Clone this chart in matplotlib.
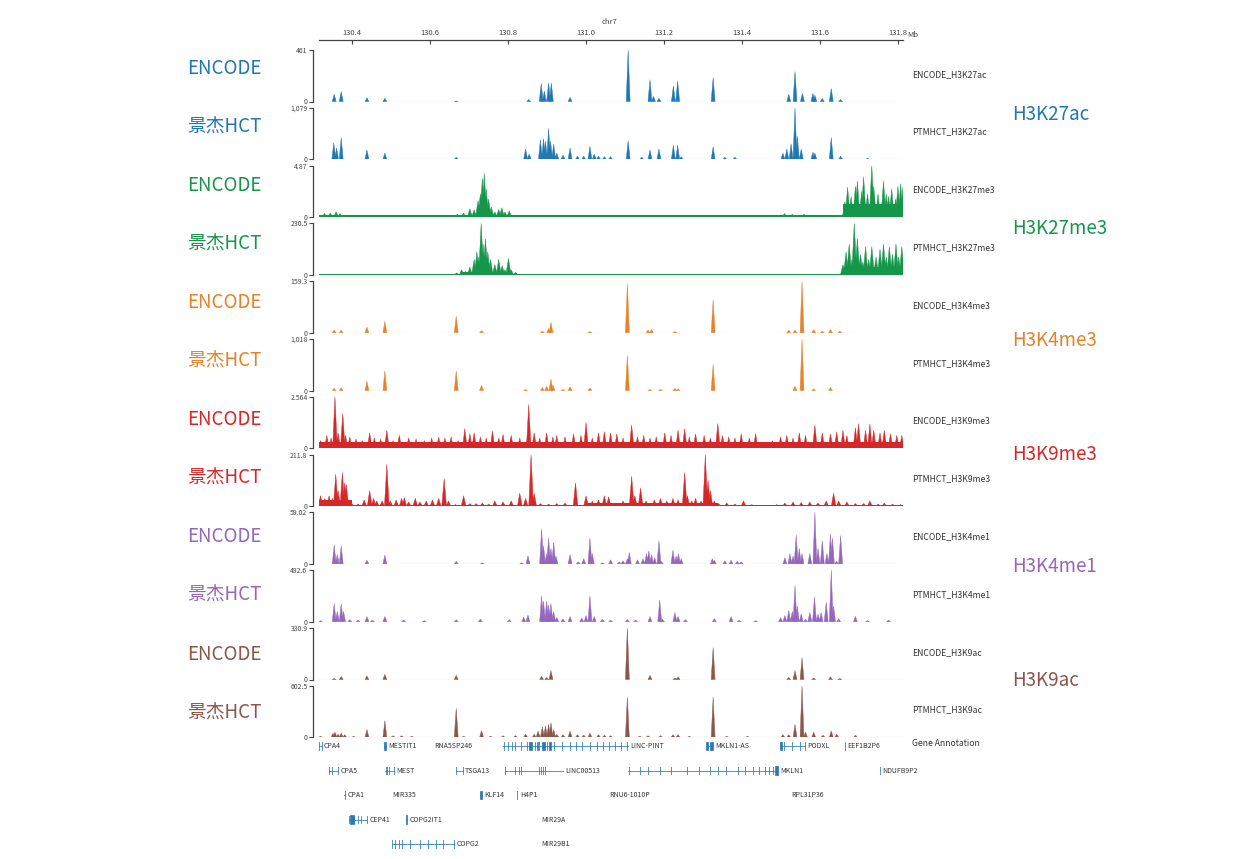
import numpy as np
import matplotlib
matplotlib.use('Agg')
import matplotlib.pyplot as plt
from matplotlib.collections import PolyCollection

plt.rcParams['font.family'] = ['Noto Sans CJK SC', 'DejaVu Sans']

# ---- data (Mb position, signal as fraction of track max) ----
enc_h3k27ac = [(130.355, 0.14), (130.373, 0.19), (130.439, 0.07), (130.485, 0.06), (130.668, 0.01),
               (130.854, 0.04), (130.886, 0.35), (130.894, 0.20), (130.905, 0.36), (130.912, 0.36),
               (130.960, 0.08), (131.109, 1.00), (131.165, 0.42), (131.174, 0.10), (131.188, 0.06),
               (131.225, 0.30), (131.236, 0.40), (131.327, 0.46), (131.521, 0.14), (131.537, 0.58),
               (131.556, 0.16), (131.583, 0.16), (131.588, 0.12), (131.607, 0.06), (131.630, 0.25),
               (131.654, 0.04)]
hct_h3k27ac = [(130.354, 0.32), (130.361, 0.22), (130.373, 0.42), (130.439, 0.18), (130.485, 0.12),
               (130.668, 0.04), (130.846, 0.20), (130.855, 0.10), (130.884, 0.38), (130.892, 0.40),
               (130.897, 0.35), (130.905, 0.60), (130.910, 0.35), (130.918, 0.30), (130.926, 0.12),
               (130.942, 0.08), (130.960, 0.22), (130.979, 0.06), (130.995, 0.06), (131.011, 0.25),
               (131.022, 0.10), (131.033, 0.06), (131.048, 0.05), (131.064, 0.05), (131.109, 0.36),
               (131.144, 0.04), (131.165, 0.18), (131.188, 0.20), (131.225, 0.27), (131.236, 0.27),
               (131.245, 0.05), (131.327, 0.24), (131.357, 0.04), (131.383, 0.04), (131.506, 0.12),
               (131.516, 0.20), (131.527, 0.30), (131.537, 1.00), (131.543, 0.45), (131.553, 0.20),
               (131.583, 0.14), (131.588, 0.12), (131.630, 0.42), (131.654, 0.06), (131.723, 0.02)]
enc_h3k27me3 = [(130.330, 0.07), (130.345, 0.08), (130.360, 0.10), (130.370, 0.07), (130.671, 0.06),
                (130.687, 0.08), (130.703, 0.16), (130.714, 0.14), (130.724, 0.32), (130.730, 0.45),
                (130.735, 0.75), (130.740, 0.85), (130.745, 0.55), (130.751, 0.35), (130.758, 0.20),
                (130.767, 0.10), (130.777, 0.15), (130.785, 0.18), (130.793, 0.10), (130.804, 0.12),
                (131.510, 0.07), (131.530, 0.06), (131.560, 0.06), (131.665, 0.30), (131.672, 0.58),
                (131.681, 0.40), (131.692, 0.60), (131.697, 0.70), (131.708, 0.50), (131.713, 0.78),
                (131.723, 0.45), (131.734, 1.00), (131.739, 0.60), (131.750, 0.45), (131.764, 0.70),
                (131.771, 0.45), (131.777, 0.40), (131.785, 0.55), (131.795, 0.35), (131.801, 0.60),
                (131.808, 0.65), (131.814, 0.60)]
hct_h3k27me3 = [(130.669, 0.04), (130.682, 0.10), (130.692, 0.07), (130.703, 0.15), (130.714, 0.30),
                (130.721, 0.45), (130.726, 0.35), (130.732, 1.00), (130.737, 0.60), (130.743, 0.70),
                (130.749, 0.45), (130.756, 0.30), (130.767, 0.20), (130.777, 0.30), (130.786, 0.18),
                (130.793, 0.10), (130.802, 0.32), (130.809, 0.10), (130.820, 0.05), (131.660, 0.20),
                (131.668, 0.45), (131.676, 0.60), (131.683, 0.30), (131.689, 1.00), (131.697, 0.70),
                (131.705, 0.40), (131.711, 0.25), (131.718, 0.55), (131.726, 0.30), (131.734, 0.55),
                (131.745, 0.35), (131.755, 0.50), (131.764, 0.60), (131.771, 0.35), (131.779, 0.55),
                (131.787, 0.40), (131.796, 0.60), (131.803, 0.35), (131.811, 0.55)]
enc_h3k4me3 = [(130.355, 0.05), (130.373, 0.05), (130.439, 0.11), (130.485, 0.22), (130.668, 0.32),
               (130.733, 0.04), (130.889, 0.03), (130.905, 0.08), (130.911, 0.20), (131.011, 0.02),
               (131.107, 0.95), (131.160, 0.05), (131.169, 0.06), (131.229, 0.02), (131.327, 0.64),
               (131.521, 0.05), (131.537, 0.05), (131.555, 1.00), (131.585, 0.06), (131.607, 0.03),
               (131.628, 0.06), (131.652, 0.03)]
hct_h3k4me3 = [(130.355, 0.04), (130.373, 0.05), (130.439, 0.18), (130.485, 0.38), (130.668, 0.38),
               (130.733, 0.10), (130.846, 0.02), (130.889, 0.06), (130.900, 0.08), (130.911, 0.22),
               (130.916, 0.10), (130.942, 0.02), (130.960, 0.07), (131.011, 0.05), (131.107, 0.68),
               (131.165, 0.02), (131.192, 0.02), (131.229, 0.04), (131.237, 0.03), (131.327, 0.50),
               (131.537, 0.08), (131.555, 1.00), (131.585, 0.03), (131.628, 0.06)]
enc_h3k9me3 = [(130.320, 0.15), (130.336, 0.25), (130.347, 0.20), (130.357, 1.00), (130.365, 0.30),
               (130.377, 0.68), (130.384, 0.25), (130.395, 0.22), (130.411, 0.18), (130.427, 0.15),
               (130.446, 0.30), (130.458, 0.20), (130.474, 0.18), (130.490, 0.35), (130.506, 0.15),
               (130.522, 0.25), (130.546, 0.20), (130.565, 0.18), (130.586, 0.15), (130.605, 0.20),
               (130.623, 0.22), (130.639, 0.20), (130.655, 0.22), (130.673, 0.15), (130.690, 0.38),
               (130.703, 0.28), (130.714, 0.30), (130.730, 0.22), (130.745, 0.20), (130.761, 0.33),
               (130.777, 0.20), (130.788, 0.27), (130.809, 0.25), (130.831, 0.20), (130.854, 0.85),
               (130.868, 0.30), (130.882, 0.20), (130.900, 0.30), (130.916, 0.22), (130.926, 0.25),
               (130.947, 0.22), (130.969, 0.28), (130.988, 0.25), (131.001, 0.50), (131.017, 0.20),
               (131.033, 0.30), (131.048, 0.32), (131.064, 0.30), (131.080, 0.28), (131.096, 0.20),
               (131.118, 0.45), (131.133, 0.22), (131.149, 0.25), (131.165, 0.20), (131.181, 0.22),
               (131.203, 0.30), (131.219, 0.25), (131.237, 0.35), (131.254, 0.38), (131.266, 0.22),
               (131.282, 0.28), (131.304, 0.25), (131.320, 0.20), (131.339, 0.48), (131.351, 0.25),
               (131.367, 0.22), (131.383, 0.20), (131.399, 0.28), (131.420, 0.20), (131.436, 0.28),
               (131.458, 0.12), (131.479, 0.15), (131.500, 0.22), (131.516, 0.25), (131.532, 0.20),
               (131.548, 0.30), (131.564, 0.25), (131.588, 0.45), (131.607, 0.30), (131.628, 0.28),
               (131.644, 0.32), (131.660, 0.35), (131.670, 0.25), (131.692, 0.40), (131.700, 0.48),
               (131.718, 0.35), (131.729, 0.47), (131.739, 0.35), (131.755, 0.30), (131.766, 0.35),
               (131.782, 0.28), (131.798, 0.25), (131.811, 0.25)]
hct_h3k9me3 = [(130.320, 0.20), (130.331, 0.15), (130.342, 0.20), (130.350, 0.15), (130.359, 0.62),
               (130.365, 0.30), (130.376, 0.65), (130.382, 0.45), (130.386, 0.42), (130.400, 0.05),
               (130.416, 0.04), (130.432, 0.12), (130.446, 0.30), (130.456, 0.15), (130.464, 0.10),
               (130.478, 0.10), (130.490, 0.81), (130.499, 0.10), (130.514, 0.12), (130.528, 0.15),
               (130.535, 0.16), (130.546, 0.08), (130.563, 0.15), (130.575, 0.08), (130.591, 0.10),
               (130.607, 0.12), (130.623, 0.15), (130.637, 0.53), (130.648, 0.10), (130.666, 0.03),
               (130.687, 0.20), (130.703, 0.05), (130.719, 0.05), (130.735, 0.06), (130.751, 0.04),
               (130.767, 0.10), (130.788, 0.08), (130.809, 0.10), (130.831, 0.25), (130.846, 0.15),
               (130.860, 1.00), (130.868, 0.25), (130.884, 0.05), (130.905, 0.04), (130.926, 0.05),
               (130.947, 0.06), (130.974, 0.45), (131.001, 0.20), (131.017, 0.10), (131.033, 0.12),
               (131.048, 0.20), (131.059, 0.18), (131.075, 0.05), (131.096, 0.10), (131.118, 0.58),
               (131.126, 0.20), (131.141, 0.35), (131.155, 0.10), (131.176, 0.12), (131.192, 0.15),
               (131.208, 0.10), (131.224, 0.15), (131.237, 0.12), (131.254, 0.65), (131.261, 0.20),
               (131.272, 0.10), (131.282, 0.15), (131.296, 0.10), (131.307, 1.00), (131.314, 0.50),
               (131.320, 0.30), (131.330, 0.10), (131.341, 0.05), (131.362, 0.06), (131.383, 0.04),
               (131.405, 0.10), (131.426, 0.03), (131.458, 0.02), (131.490, 0.03), (131.511, 0.06),
               (131.532, 0.08), (131.553, 0.07), (131.575, 0.08), (131.596, 0.06), (131.617, 0.10),
               (131.636, 0.25), (131.649, 0.10), (131.670, 0.08), (131.692, 0.05), (131.713, 0.05),
               (131.729, 0.10), (131.750, 0.04), (131.766, 0.06), (131.787, 0.04), (131.808, 0.03)]
enc_h3k4me1 = [(130.355, 0.37), (130.363, 0.18), (130.373, 0.35), (130.439, 0.07), (130.485, 0.17),
               (130.668, 0.05), (130.735, 0.02), (130.836, 0.02), (130.852, 0.16), (130.887, 0.68),
               (130.892, 0.35), (130.900, 0.20), (130.905, 0.50), (130.911, 0.30), (130.918, 0.42),
               (130.924, 0.15), (130.960, 0.18), (130.981, 0.04), (130.995, 0.10), (131.011, 0.50),
               (131.017, 0.20), (131.043, 0.02), (131.064, 0.08), (131.086, 0.04), (131.096, 0.06),
               (131.107, 0.10), (131.112, 0.22), (131.133, 0.08), (131.147, 0.10), (131.156, 0.20),
               (131.162, 0.25), (131.169, 0.18), (131.177, 0.12), (131.188, 0.45), (131.194, 0.05),
               (131.224, 0.27), (131.232, 0.15), (131.238, 0.20), (131.245, 0.10), (131.325, 0.10),
               (131.330, 0.07), (131.357, 0.06), (131.373, 0.07), (131.389, 0.05), (131.399, 0.04),
               (131.511, 0.12), (131.524, 0.20), (131.532, 0.15), (131.540, 0.56), (131.548, 0.30),
               (131.555, 0.20), (131.575, 0.20), (131.588, 1.00), (131.596, 0.30), (131.607, 0.45),
               (131.619, 0.20), (131.628, 0.58), (131.633, 0.50), (131.644, 0.05), (131.654, 0.55)]
hct_h3k4me1 = [(130.320, 0.02), (130.355, 0.35), (130.363, 0.20), (130.373, 0.35), (130.379, 0.20),
               (130.395, 0.04), (130.416, 0.03), (130.439, 0.10), (130.453, 0.03), (130.485, 0.10),
               (130.533, 0.03), (130.586, 0.02), (130.668, 0.04), (130.730, 0.05), (130.804, 0.04),
               (130.841, 0.09), (130.852, 0.13), (130.887, 0.50), (130.892, 0.40), (130.900, 0.40),
               (130.905, 0.32), (130.911, 0.35), (130.918, 0.20), (130.926, 0.08), (130.942, 0.05),
               (130.960, 0.10), (130.990, 0.07), (131.001, 0.12), (131.011, 0.50), (131.022, 0.10),
               (131.043, 0.05), (131.064, 0.03), (131.107, 0.04), (131.128, 0.03), (131.165, 0.10),
               (131.190, 0.42), (131.197, 0.05), (131.229, 0.18), (131.237, 0.10), (131.256, 0.04),
               (131.330, 0.06), (131.373, 0.10), (131.394, 0.03), (131.436, 0.02), (131.500, 0.08),
               (131.511, 0.12), (131.521, 0.22), (131.530, 0.20), (131.537, 0.70), (131.543, 0.30),
               (131.553, 0.15), (131.564, 0.05), (131.575, 0.18), (131.587, 0.48), (131.596, 0.15),
               (131.604, 0.18), (131.617, 0.38), (131.630, 1.00), (131.636, 0.30), (131.649, 0.06),
               (131.692, 0.10), (131.723, 0.02), (131.777, 0.03)]
enc_h3k9ac = [(130.355, 0.02), (130.373, 0.06), (130.439, 0.07), (130.485, 0.10), (130.668, 0.08),
              (130.887, 0.06), (130.900, 0.04), (130.911, 0.17), (131.107, 1.00), (131.165, 0.08),
              (131.229, 0.03), (131.237, 0.05), (131.327, 0.62), (131.521, 0.04), (131.537, 0.17),
              (131.555, 0.42), (131.585, 0.03), (131.628, 0.05), (131.652, 0.02)]
hct_h3k9ac = [(130.320, 0.02), (130.352, 0.08), (130.357, 0.10), (130.365, 0.06), (130.373, 0.08),
              (130.382, 0.05), (130.405, 0.02), (130.439, 0.15), (130.485, 0.32), (130.506, 0.03),
              (130.528, 0.03), (130.554, 0.02), (130.668, 0.56), (130.687, 0.02), (130.733, 0.13),
              (130.756, 0.02), (130.788, 0.03), (130.820, 0.03), (130.846, 0.06), (130.868, 0.06),
              (130.878, 0.12), (130.889, 0.20), (130.897, 0.22), (130.905, 0.25), (130.911, 0.28),
              (130.918, 0.15), (130.926, 0.06), (130.942, 0.05), (130.960, 0.12), (130.979, 0.05),
              (130.995, 0.04), (131.011, 0.08), (131.033, 0.05), (131.048, 0.04), (131.064, 0.03),
              (131.107, 0.78), (131.139, 0.02), (131.160, 0.03), (131.192, 0.03), (131.224, 0.05),
              (131.237, 0.05), (131.266, 0.02), (131.327, 0.78), (131.362, 0.02), (131.415, 0.02),
              (131.506, 0.05), (131.521, 0.05), (131.537, 0.25), (131.555, 1.00), (131.564, 0.10),
              (131.585, 0.10), (131.609, 0.04), (131.630, 0.12), (131.644, 0.06), (131.692, 0.04)]

# background levels (start, end, level)
enc_h3k27me3_bg = [(130.315, 131.814, 0.04), (131.660, 131.814, 0.25)]
hct_h3k27me3_bg = [(130.315, 131.814, 0.01), (130.680, 130.810, 0.06), (131.660, 131.814, 0.15)]
enc_h3k9me3_bg = [(130.315, 131.814, 0.12)]
hct_h3k9me3_bg = [(130.315, 131.814, 0.03), (130.315, 130.400, 0.12), (131.000, 131.340, 0.06)]

track_names = ['ENCODE_H3K27ac', 'PTMHCT_H3K27ac', 'ENCODE_H3K27me3', 'PTMHCT_H3K27me3',
               'ENCODE_H3K4me3', 'PTMHCT_H3K4me3', 'ENCODE_H3K9me3', 'PTMHCT_H3K9me3',
               'ENCODE_H3K4me1', 'PTMHCT_H3K4me1', 'ENCODE_H3K9ac', 'PTMHCT_H3K9ac']
track_max = ['461', '1,079', '4.87', '230.5', '159.3', '1,018', '2.564', '211.8',
             '59.02', '492.6', '330.9', '602.5']
track_peaks = [enc_h3k27ac, hct_h3k27ac, enc_h3k27me3, hct_h3k27me3, enc_h3k4me3, hct_h3k4me3,
               enc_h3k9me3, hct_h3k9me3, enc_h3k4me1, hct_h3k4me1, enc_h3k9ac, hct_h3k9ac]
track_bg = [[], [], enc_h3k27me3_bg, hct_h3k27me3_bg, [], [], enc_h3k9me3_bg, hct_h3k9me3_bg,
            [], [], [], []]
marks = ['H3K27ac', 'H3K27me3', 'H3K4me3', 'H3K9me3', 'H3K4me1', 'H3K9ac']
sources = ['ENCODE', '景杰HCT']
colors = ['#1f77b4', '#16964a', '#e6832a', '#d62728', '#9467bd', '#8c564b']

chrom_ticks = [130.4, 130.6, 130.8, 131.0, 131.2, 131.4, 131.6, 131.8]

# genes: name, start, end, row
genes = [('CPA4', 130.316, 130.323, 0), ('MESTIT1', 130.484, 130.487, 0),
         ('RNA5SP246', 130.604, 130.605, 0), ('LINC-PINT', 130.788, 131.108, 0),
         ('MKLN1-AS', 131.309, 131.326, 0), ('PODXL', 131.498, 131.563, 0),
         ('EEF1B2P6', 131.664, 131.665, 0),
         ('CPA5', 130.342, 130.365, 1), ('MEST', 130.485, 130.508, 1),
         ('TSGA13', 130.667, 130.685, 1), ('LINC00513', 130.793, 130.942, 1),
         ('MKLN1', 131.109, 131.493, 1), ('NDUFB9P2', 131.755, 131.756, 1),
         ('CPA1', 130.381, 130.383, 2), ('MIR335', 130.496, 130.497, 2),
         ('KLF14', 130.730, 130.733, 2), ('H4P1', 130.825, 130.826, 2),
         ('RNU6-1010P', 131.054, 131.055, 2), ('RPL31P36', 131.521, 131.522, 2),
         ('CEP41', 130.393, 130.439, 3), ('COPG2IT1', 130.540, 130.543, 3),
         ('MIR29A', 130.879, 130.880, 3),
         ('COPG2', 130.502, 130.662, 4), ('MIR29B1', 130.879, 130.880, 4)]
gene_exons = {
    'CPA4': [130.316, 130.323],
    'LINC-PINT': [130.790, 130.800, 130.810, 130.820, 130.835, 130.850, 130.870, 130.880, 130.900,
                  130.920, 130.940, 130.960, 130.975, 130.990, 131.010, 131.030, 131.045, 131.060,
                  131.075, 131.090, 131.105],
    'PODXL': [131.510, 131.530, 131.550, 131.562],
    'CPA5': [130.342, 130.350, 130.365],
    'MEST': [130.487, 130.490, 130.495, 130.508],
    'TSGA13': [130.667, 130.685],
    'LINC00513': [130.793, 130.820, 130.830, 130.835, 130.880, 130.885, 130.890, 130.895],
    'MKLN1': [131.112, 131.140, 131.160, 131.190, 131.220, 131.260, 131.290, 131.320, 131.340,
              131.360, 131.390, 131.410, 131.430, 131.445, 131.460, 131.470, 131.480, 131.488],
    'CPA1': [130.382],
    'CEP41': [130.393, 130.405, 130.415, 130.425, 130.439],
    'COPG2': [130.503, 130.512, 130.522, 130.530, 130.550, 130.575, 130.595, 130.615, 130.635,
              130.662],
    'EEF1B2P6': [131.665], 'NDUFB9P2': [131.755], 'H4P1': [130.825],
}
gene_blocks = {
    'MESTIT1': [(130.484, 130.487)],
    'LINC-PINT': [(130.855, 130.862), (130.875, 130.878), (130.888, 130.895), (130.905, 130.912)],
    'MKLN1-AS': [(131.309, 131.313), (131.320, 131.326)],
    'PODXL': [(131.498, 131.503)],
    'MKLN1': [(131.486, 131.493)],
    'KLF14': [(130.730, 130.733)],
    'CEP41': [(130.396, 130.405)],
    'COPG2IT1': [(130.540, 130.543)],
}

# ---- layout ----
W, H = 1255, 859
fig = plt.figure(figsize=(W / 100, H / 100), dpi=100)


def fx(px):
    return px / W


def fy(py):
    return 1 - py / H


X0, X1 = 318.6, 903.0
XLIM = (130.315, 131.814)
track_h = 51.5

for i in range(12):
    col = colors[i // 2]
    top = 50 + 57.8 * i
    ax = fig.add_axes([fx(X0), fy(top + track_h), (X1 - X0) / W, track_h / H])
    if i in (2, 3):
        hw = 0.0065
    elif i in (6, 7):
        hw = 0.006
    else:
        hw = 0.005
    verts = [[(p - hw, 0), (p, v), (p + hw, 0)] for p, v in track_peaks[i]]
    ax.add_collection(PolyCollection(verts, facecolors=col, edgecolors=col, linewidths=0.3))
    for s, e, lvl in track_bg[i]:
        ax.fill_between([s, e], 0, lvl, color=col, lw=0)
    ax.axhline(0, color=col, lw=0.8, alpha=0.5)
    ax.set_xlim(*XLIM)
    ax.set_ylim(0, 1.0)
    for sp in ['top', 'right', 'bottom']:
        ax.spines[sp].set_visible(False)
    ax.spines['left'].set_position(('outward', 4))
    ax.spines['left'].set_color('#444444')
    ax.spines['left'].set_linewidth(0.9)
    ax.set_xticks([])
    ax.set_yticks([0, 1])
    ax.set_yticklabels(['0', track_max[i]])
    ax.tick_params(axis='y', direction='out', length=3, width=0.8, labelsize=5,
                   colors='#444444', pad=1)
    ax.patch.set_alpha(0)
    ax.text(1.015, 0.53, track_names[i], transform=ax.transAxes, fontsize=6.2,
            color='#333333', ha='left', va='center')

    # left source label
    fig.text(fx(224), fy(68 + 58.6 * i), sources[i % 2], color=col, fontsize=13.5,
             ha='center', va='center')

# right mark labels
for g, m in enumerate(marks):
    fig.text(fx(1012), fy(115 + 113 * g), m, color=colors[g], fontsize=13.5,
             ha='left', va='center')

# chromosome scale on top
sax = fig.add_axes([fx(X0), fy(40), (X1 - X0) / W, 0.0001])
sax.set_xlim(*XLIM)
sax.set_yticks([])
for sp in ['top', 'right', 'left']:
    sax.spines[sp].set_visible(False)
sax.spines['bottom'].set_color('#444444')
sax.spines['bottom'].set_linewidth(0.9)
sax.set_xticks(chrom_ticks)
sax.set_xticklabels([f'{t:.1f}' for t in chrom_ticks])
sax.tick_params(axis='x', direction='out', length=3, width=0.8, labelsize=5.5,
                colors='#444444', labelbottom=False, labeltop=True, top=False, bottom=True, pad=-1)
fig.text(fx(907), fy(35), 'Mb', fontsize=5.5, color='#444444', ha='left', va='center')
fig.text(fx(610), fy(22), 'chr7', fontsize=5.5, color='#444444', ha='center', va='center',
         style='italic')

# gene annotation
gax = fig.add_axes([fx(X0), fy(856), (X1 - X0) / W, (856 - 735) / H])
gax.set_xlim(*XLIM)
gax.set_ylim(4.49, -0.45)
gax.axis('off')
gcol = '#2a78b8'
for name, s, e, row in genes:
    if e - s > 0.002:
        gax.plot([s, e], [row, row], color=gcol, lw=0.7, alpha=0.8)
    for ex in gene_exons.get(name, []):
        gax.plot([ex, ex], [row - 0.16, row + 0.16], color=gcol, lw=0.7, alpha=0.8)
    for bs, be in gene_blocks.get(name, []):
        gax.fill_between([bs, be], row - 0.17, row + 0.17, color=gcol, lw=0.5)
    gax.text(e + 0.006, row, name, fontsize=5, color='#333333', ha='left', va='center')
fig.text(fx(912), fy(744), 'Gene Annotation', fontsize=6.2, color='#333333', ha='left',
         va='center')

fig.savefig('out.png', dpi=100)
